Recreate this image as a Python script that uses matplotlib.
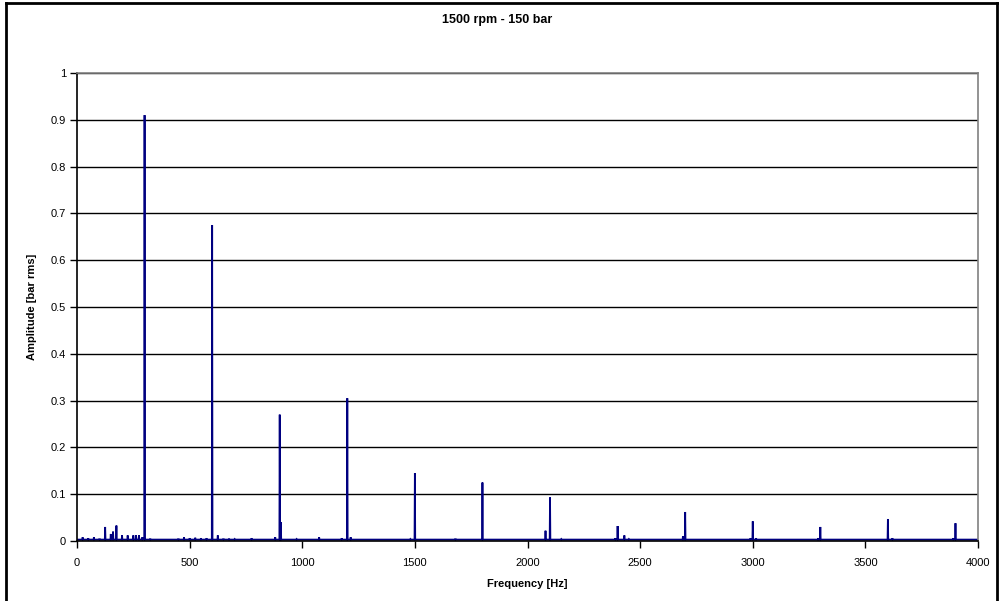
import matplotlib
matplotlib.use("Agg")
import matplotlib.pyplot as plt
from matplotlib.lines import Line2D
import numpy as np

plt.rcParams['font.family'] = ['Liberation Sans', 'DejaVu Sans']

title = "1500 rpm - 150 bar"
xlabel = "Frequency [Hz]"
ylabel = "Amplitude [bar rms]"

# spectral lines (Hz, bar rms)
peak_freqs = [25, 50, 75, 100, 125, 150, 160, 175, 200, 225, 250, 262, 275, 290,
              300, 325, 450, 475, 500, 525, 550, 575, 600, 625, 650, 675, 700, 775,
              880, 900, 905, 975, 1075, 1175, 1200, 1215, 1480, 1500, 1680, 1800,
              2080, 2100, 2150, 2390, 2400, 2430, 2450, 2550, 2690, 2700, 2990, 3000,
              3015, 3290, 3300, 3600, 3620, 3890, 3900]
peak_amps = [0.008, 0.006, 0.008, 0.005, 0.030, 0.015, 0.020, 0.033, 0.012, 0.012, 0.012, 0.012, 0.012, 0.008,
             0.910, 0.005, 0.005, 0.008, 0.006, 0.007, 0.006, 0.006, 0.675, 0.012, 0.005, 0.005, 0.004, 0.006,
             0.008, 0.270, 0.040, 0.004, 0.008, 0.006, 0.305, 0.008, 0.004, 0.145, 0.005, 0.125,
             0.022, 0.093, 0.004, 0.006, 0.032, 0.012, 0.004, 0.003, 0.010, 0.062, 0.006, 0.042,
             0.006, 0.006, 0.030, 0.047, 0.006, 0.006, 0.038]
noise_floor = 0.003
f_min, f_max = 0, 4000

# build the line: floor between spikes
xs = [f_min]
ys = [noise_floor]
for f, a in zip(peak_freqs, peak_amps):
    xs += [f - 1.5, f, f + 1.5]
    ys += [noise_floor, a, noise_floor]
xs.append(f_max)
ys.append(noise_floor)

fig = plt.figure(figsize=(10, 6.01), dpi=100)
ax = fig.add_axes([0.077, 1 - 541 / 601, 0.901, 468 / 601])

ax.plot(xs, ys, color='#000080', lw=1.3, solid_joinstyle='miter')

ax.set_xlim(0, 4000)
ax.set_ylim(0, 1)
ax.set_xticks(np.arange(0, 4001, 500))
ax.set_yticks(np.round(np.arange(0, 1.01, 0.1), 1))
ax.set_yticklabels(['0', '0.1', '0.2', '0.3', '0.4', '0.5', '0.6', '0.7', '0.8', '0.9', '1'])
ax.yaxis.grid(True, color='black', lw=1)
ax.set_axisbelow(True)
ax.tick_params(axis='both', direction='out', length=5, width=1, labelsize=8, color='black')
ax.tick_params(axis='x', pad=7)
ax.tick_params(axis='y', pad=3)

for s in ['left', 'bottom']:
    ax.spines[s].set_color('black')
    ax.spines[s].set_linewidth(1.2)
for s in ['top', 'right']:
    ax.spines[s].set_color('#808080')
    ax.spines[s].set_linewidth(1.2)

ax.set_xlabel(xlabel, fontsize=8, fontweight='bold', labelpad=8)
ax.set_ylabel(ylabel, fontsize=8, fontweight='bold', labelpad=10)
fig.text(0.497, 1 - 20 / 601, title, ha='center', va='center', fontsize=9, fontweight='bold')

# outer chart frame
fig.add_artist(Line2D([0.006, 0.006], [0, 0.995], transform=fig.transFigure, color='black', lw=2))
fig.add_artist(Line2D([0.006, 0.997], [0.995, 0.995], transform=fig.transFigure, color='black', lw=2))
fig.add_artist(Line2D([0.997, 0.997], [0, 0.995], transform=fig.transFigure, color='black', lw=2))

fig.savefig('out.png', dpi=100)
